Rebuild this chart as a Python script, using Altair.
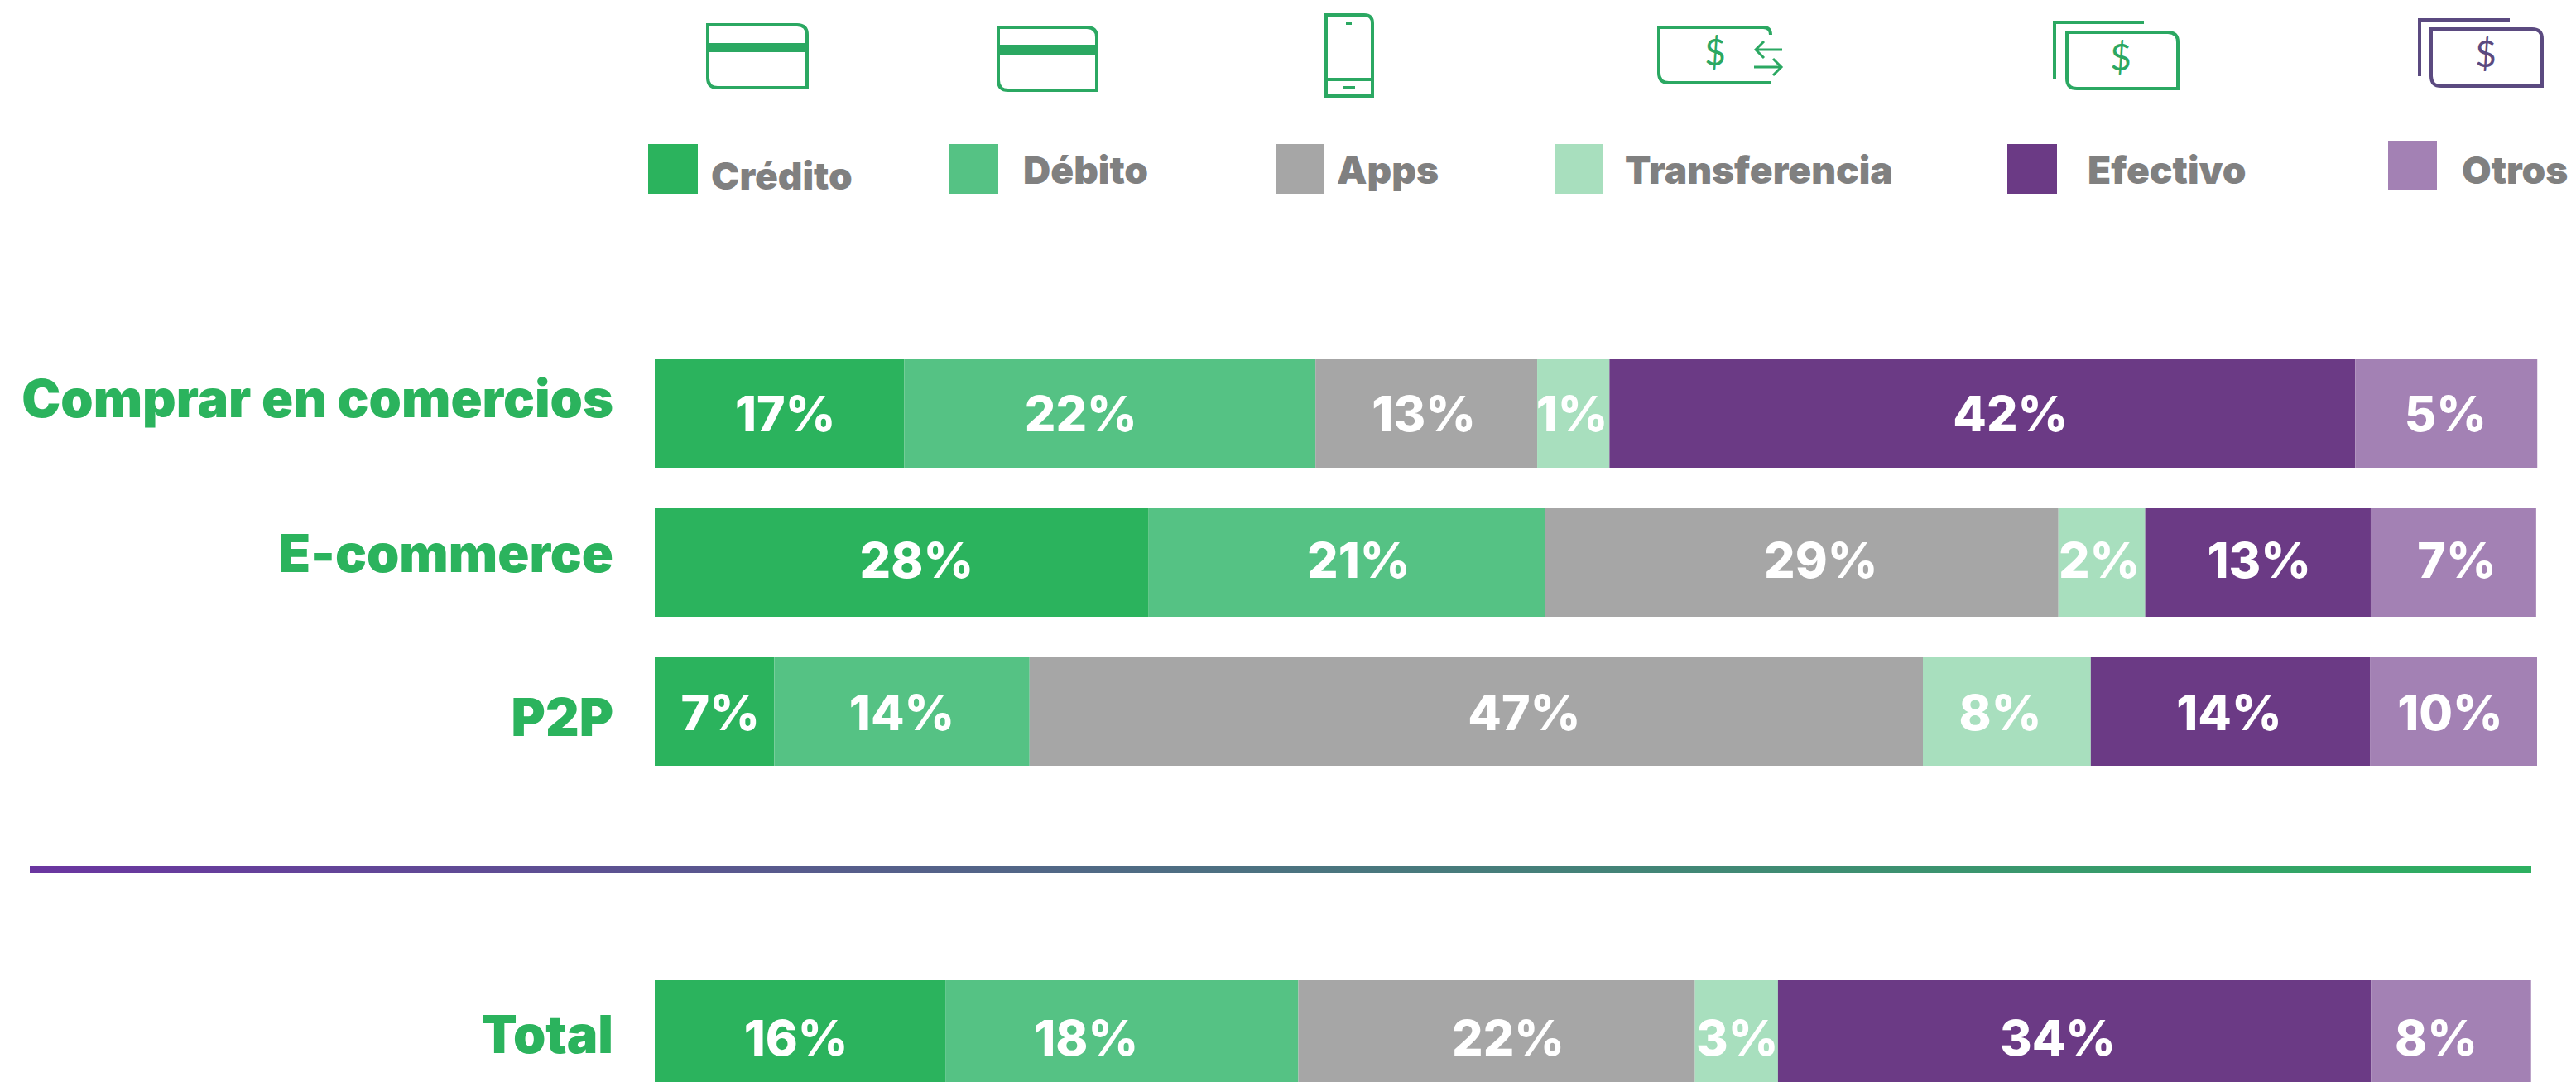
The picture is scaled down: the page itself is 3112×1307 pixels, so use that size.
import altair as alt
import pandas as pd

# ---- data ----
rows_top = ["Comprar en comercios", "E-commerce", "P2P"]
row_total = "Total"
series = ["Crédito", "Débito", "Apps", "Transferencia", "Efectivo", "Otros"]
colors = ["#2BB35D", "#55C284", "#A6A6A6", "#A8DFBE", "#6B3A85", "#A381B4"]

comprar_len = [13.26, 21.84, 11.78, 3.84, 39.62, 9.67]
ecommerce_len = [26.24, 21.07, 27.26, 4.61, 11.98, 8.79]
p2p_len = [6.35, 13.56, 47.46, 8.92, 14.83, 8.88]
total_len = [15.44, 18.75, 21.07, 4.41, 31.50, 8.51]

comprar_lab = ["17%", "22%", "13%", "1%", "42%", "5%"]
ecommerce_lab = ["28%", "21%", "29%", "2%", "13%", "7%"]
p2p_lab = ["7%", "14%", "47%", "8%", "14%", "10%"]
total_lab = ["16%", "18%", "22%", "3%", "34%", "8%"]

# ---- label nudges along the bar (px), as in the original artwork ----
nudges = {
    "Comprar en comercios": [7, -35, -3, -1.5, 34, -1],
    "E-commerce": [18, 14, 23, -3, 1.5, 4],
    "P2P": [7, 0, 58, -8, -1.5, -4],
    "Total": [-5, -43, 14, 1, -20, -18],
}
PX_PER_UNIT = 22.74

records = []
for row, lens, labs in [
    (rows_top[0], comprar_len, comprar_lab),
    (rows_top[1], ecommerce_len, ecommerce_lab),
    (rows_top[2], p2p_len, p2p_lab),
    (row_total, total_len, total_lab),
]:
    start = 0.0
    for i, (s, v, l) in enumerate(zip(series, lens, labs)):
        records.append({
            "row": row, "series": s, "share": v, "label": l, "order": i,
            "center": start + v / 2 + nudges[row][i] / PX_PER_UNIT,
        })
        start += v
df = pd.DataFrame(records)
df_top = df[df.row != row_total]
df_tot = df[df.row == row_total]
one = pd.DataFrame({"a": [0]})

OFF = 8  # page margin


def px(v):
    return alt.value(v - OFF)


x_scale = alt.Scale(domain=[0, 100], range=[791 - OFF, 3065 - OFF])
y_top = alt.Scale(type="band", domain=rows_top, range=[434 - OFF, 925 - OFF],
                  paddingInner=0.272, paddingOuter=0, round=False)
y_tot = alt.Scale(type="band", domain=[row_total], range=[1184 - OFF, 1315 - OFF],
                  paddingInner=0, paddingOuter=0, round=False)
color_scale = alt.Scale(domain=series, range=colors)

FONT = "Inter"
GREEN = "#2BB35D"
ICON_GREEN = "#2BA862"
ICON_PURPLE = "#5B4A80"
GRAY = "#808080"

layers = []


def bars(data, yscale):
    return alt.Chart(data).mark_bar().encode(
        x=alt.X("share:Q", stack="zero", scale=x_scale, axis=None),
        y=alt.Y("row:N", scale=yscale, axis=None),
        color=alt.Color("series:N", scale=color_scale, legend=None),
        order=alt.Order("order:Q"),
    )


layers.append(bars(df_top, y_top))
layers.append(bars(df_tot, y_tot))

for row, dy_val, dy_lab, ys, d in [
    (rows_top[0], 3, -15, y_top, df_top),
    (rows_top[1], 0.6, -8, y_top, df_top),
    (rows_top[2], 5, 11, y_top, df_top),
    (row_total, 7, 3, y_tot, df_tot),
]:
    sub = d[d.row == row]
    layers.append(
        alt.Chart(sub).mark_text(font=FONT, fontWeight=800, fontSize=59, color="white",
                                 align="center", baseline="middle", dy=dy_val).encode(
            x=alt.X("center:Q", scale=x_scale, axis=None),
            y=alt.Y("row:N", scale=ys, axis=None),
            text="label:N",
        )
    )
    layers.append(
        alt.Chart(sub.head(1)).mark_text(font=FONT, fontWeight=900, fontSize=63, color=GREEN,
                                         align="right", baseline="middle", dy=dy_lab).encode(
            x=px(741),
            y=alt.Y("row:N", scale=ys, axis=None),
            text="row:N",
        )
    )

# ---- hand-placed key, as in the original ----
swatches = [(783, 843, 174, 234), (1146, 1206, 174, 234), (1541, 1600, 174, 234),
            (1878, 1937, 174, 234), (2425, 2485, 174, 234), (2885, 2944, 170, 230)]
key_text = [(859, 229), (1236, 222), (1615, 222), (1963, 222), (2522, 222), (2974, 222)]
for name, col, (x0, x1, y0, y1), (tx, ty) in zip(series, colors, swatches, key_text):
    layers.append(alt.Chart(one).mark_rect(color=col).encode(
        x=px(x0), x2=px(x1), y=px(y0), y2=px(y1)))
    layers.append(alt.Chart(one).mark_text(
        text=name, font=FONT, fontWeight=900, fontSize=46, color=GRAY,
        align="left", baseline="alphabetic").encode(x=px(tx), y=px(ty)))

# ---- separator ----
layers.append(alt.Chart(one).mark_rect(
    color=alt.LinearGradient(
        gradient="linear",
        stops=[alt.GradientStop(color="#6A35A0", offset=0),
               alt.GradientStop(color="#2DB060", offset=1)],
        x1=0, x2=1, y1=0, y2=0),
).encode(x=px(36), x2=px(3058), y=px(1046), y2=px(1055)))


# ---- icons ----
def icon(path, color, width=4):
    return alt.Chart(one).mark_point(shape=path, size=4, filled=False, opacity=1,
                                     stroke=color, strokeWidth=width).encode(
        x=alt.value(-OFF), y=alt.value(-OFF))


def card(x0, x1, y0, y1, r=12):
    return (f"M{x0} {y0}H{x1 - r}Q{x1} {y0} {x1} {y0 + r}V{y1}H{x0 + r}"
            f"Q{x0} {y1} {x0} {y1 - r}Z")


def stripe(x0, x1, y0, y1, color):
    return alt.Chart(one).mark_rect(color=color).encode(x=px(x0), x2=px(x1), y=px(y0), y2=px(y1))


def dollar(x, y, color):
    return alt.Chart(one).mark_text(text="$", font="Lato", fontWeight=400, fontSize=44, color=color,
                                    align="center", baseline="middle").encode(x=px(x), y=px(y))


layers += [
    icon(card(855, 975, 30, 106), ICON_GREEN),
    stripe(855, 975, 52, 63, ICON_GREEN),
    icon(card(1206, 1325, 33, 109), ICON_GREEN),
    stripe(1206, 1325, 54, 66, ICON_GREEN),
    icon("M1602 18H1648Q1658 18 1658 28V116H1602ZM1602 96H1658", ICON_GREEN),
    stripe(1626, 1633, 26, 30, ICON_GREEN),
    stripe(1622, 1637, 104, 108, ICON_GREEN),
    icon("M2139 42Q2139 33 2130 33H2004V88Q2004 100 2016 100H2139", ICON_GREEN),
    dollar(2072, 66, ICON_GREEN),
    icon("M2153 60H2121M2131 50L2121 60L2131 70M2119 81H2152M2142 71L2152 81L2142 91", ICON_GREEN, 3),
    icon("M2482 95V27H2590", ICON_GREEN),
    icon(card(2497, 2631, 39, 107), ICON_GREEN),
    dollar(2562, 72, ICON_GREEN),
    icon("M2923 92V24H3032", ICON_PURPLE),
    icon(card(2937, 3071, 35, 104), ICON_PURPLE),
    dollar(3003, 68, ICON_PURPLE),
]

chart = alt.layer(*layers).resolve_scale(y="independent").properties(
    width=3096, height=1299, padding=0,
    autosize=alt.AutoSizeParams(type="none"),
    background="white",
).configure_view(stroke=None)

chart.save("out.html", embed_options={"renderer": "svg", "actions": False})
